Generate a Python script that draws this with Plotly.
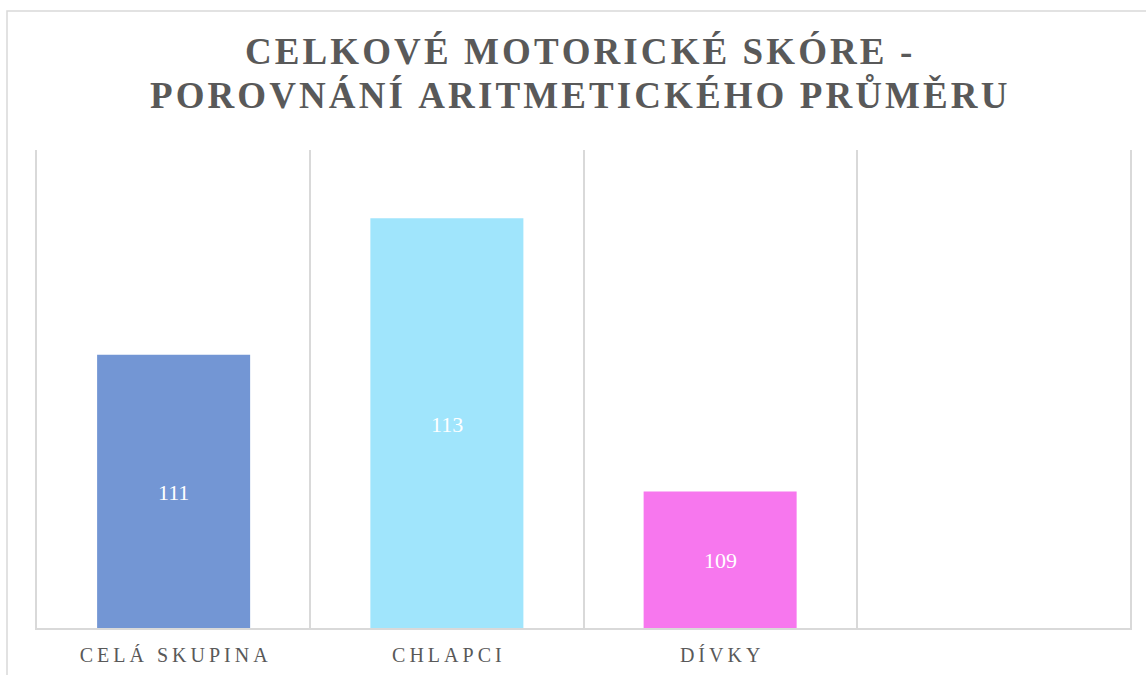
import plotly.graph_objects as go

categories = ["CELÁ SKUPINA", "CHLAPCI", "DÍVKY", " "]
values = [111, 113, 109, None]
colors = ["#7396D4", "#A0E5FC", "#F777EE", "#FFFFFF"]
title_lines = ["CELKOVÉ MOTORICKÉ SKÓRE -", "POROVNÁNÍ ARITMETICKÉHO PRŮMĚRU"]
y_min, y_max = 107, 114

HAIR = "\u200a"
THIN = "\u2009"


def spaced(s, sep):
    return sep.join(list(s))


serif = "Liberation Serif, Times New Roman, serif"

fig = go.Figure()
fig.add_trace(go.Bar(
    x=categories,
    y=values,
    marker=dict(color=colors, line=dict(width=0)),
    hoverinfo="skip",
))

fig.update_layout(
    width=1146, height=675,
    margin=dict(l=37, r=16, t=150, b=47),
    paper_bgcolor="white", plot_bgcolor="white",
    showlegend=False,
    bargap=0.44,
    xaxis=dict(
        type="category",
        range=[-0.5, 3.5],
        tickson="boundaries",
        ticks="",
        showgrid=True, gridcolor="#D9D9D9", gridwidth=1.5,
        showline=True, linecolor="#D9D9D9", linewidth=1.5,
        tickvals=categories,
        ticktext=[spaced(c, THIN) for c in categories],
        tickfont=dict(family=serif, size=20, color="#595959"),
        ticklabelstandoff=8,
        automargin=False,
        fixedrange=True,
    ),
    yaxis=dict(
        range=[y_min, y_max],
        showticklabels=False, ticks="",
        showgrid=False, zeroline=False,
        showline=True, linecolor="#D9D9D9", linewidth=1.5, mirror=True,
        automargin=False,
        fixedrange=True,
    ),
)

# data labels centred in the visible part of each bar
for c, v in zip(categories, values):
    if v is None:
        continue
    fig.add_annotation(
        x=c, y=(y_min + v) / 2, xref="x", yref="y",
        text=str(v), showarrow=False, yshift=-1,
        font=dict(family=serif, size=22, color="white"),
    )

# title lines
for txt, py in zip(title_lines, [52, 95]):
    fig.add_annotation(
        text="<b>" + spaced(txt, HAIR) + "</b>",
        xref="paper", yref="paper",
        x=(578 - 37) / 1093, y=(628 - py) / 478,
        xanchor="center", yanchor="middle",
        showarrow=False,
        font=dict(family=serif, size=37, color="#595959"),
    )

# outer chart border
fig.add_shape(
    type="rect", xref="paper", yref="paper",
    x0=(7 - 37) / 1093, x1=(1160 - 37) / 1093,
    y0=(628 - 690) / 478, y1=(628 - 11) / 478,
    line=dict(color="#D9D9D9", width=1.5), fillcolor="rgba(0,0,0,0)",
    layer="below",
)

fig.write_html(
    "out.html",
    config={"displayModeBar": False},
    post_script="document.body.style.margin='0px';",
)
